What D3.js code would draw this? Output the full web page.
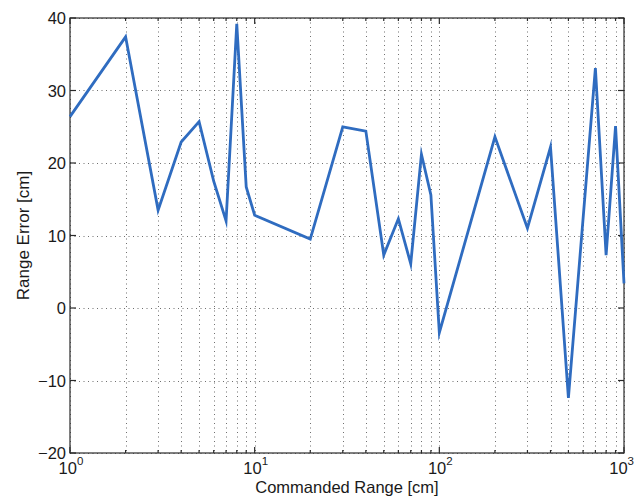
<!DOCTYPE html>
<html>
<head>
<meta charset="utf-8">
<script src="https://cdn.jsdelivr.net/npm/d3@7"></script>
<style>
  html, body { margin: 0; padding: 0; background: #fff; }
  svg { display: block; }
  text { font-family: "Liberation Sans", Arial, Helvetica, sans-serif; fill: #1a1a1a; }
</style>
</head>
<body>
<script>
// Data
const ranges = [1, 2, 3, 4, 5, 6, 7, 8, 9, 10, 20, 30, 40, 50, 60, 70, 80, 90, 100, 200, 300, 400, 500, 700, 800, 900, 1000];
const errors = [26.4, 37.4, 13.5, 22.9, 25.7, 17.5, 12.0, 39.2, 16.7, 12.8, 9.5, 25.0, 24.4, 7.3, 12.3, 6.1, 21.2, 15.6, -3.4, 23.6, 11.0, 22.2, -12.4, 33.1, 7.3, 25.1, 3.4];
const xMajorTicks = [1, 10, 100, 1000];
const xTickExponents = ["0", "1", "2", "3"];
const yTicks = [-20, -10, 0, 10, 20, 30, 40];
const xLabel = "Commanded Range [cm]";
const yLabel = "Range Error [cm]";

const W = 635, H = 496;
const margin = { left: 70, right: 11, top: 18, bottom: 43 };
const x0 = margin.left, x1 = W - margin.right, y0 = margin.top, y1 = H - margin.bottom;

const svg = d3.select("body").append("svg").attr("width", W).attr("height", H);

const x = d3.scaleLog().domain([1, 1000]).range([x0, x1]);
const y = d3.scaleLinear().domain([-20, 40]).range([y1, y0]);

// minor ticks 2..9 per decade
const xMinor = [];
[1, 10, 100].forEach(d => { for (let k = 2; k <= 9; k++) xMinor.push(d * k); });
const xAllGrid = xMinor.concat(xMajorTicks);

const gridColor = "#333";
const grid = svg.append("g");
grid.selectAll("line.vg").data(xAllGrid).enter().append("line")
  .attr("x1", d => Math.round(x(d)) + 0.5).attr("x2", d => Math.round(x(d)) + 0.5)
  .attr("y1", y0).attr("y2", y1)
  .attr("stroke", gridColor).attr("stroke-width", 1).attr("stroke-dasharray", "1,3.5").attr("opacity", 0.7);
grid.selectAll("line.hg").data(yTicks).enter().append("line")
  .attr("y1", d => Math.round(y(d)) + 0.5).attr("y2", d => Math.round(y(d)) + 0.5)
  .attr("x1", x0).attr("x2", x1)
  .attr("stroke", gridColor).attr("stroke-width", 1).attr("stroke-dasharray", "1,3.5").attr("opacity", 0.7);

// Axes box and inward ticks
const axisColor = "#2a2a2a";
const ax = svg.append("g").attr("stroke", axisColor).attr("stroke-width", 1.2).attr("fill", "none");
ax.append("rect").attr("x", x0).attr("y", y0).attr("width", x1 - x0).attr("height", y1 - y0);
const majLen = 6, minLen = 3;
xMajorTicks.forEach(d => {
  const px = x(d);
  ax.append("line").attr("x1", px).attr("x2", px).attr("y1", y1).attr("y2", y1 - majLen);
  ax.append("line").attr("x1", px).attr("x2", px).attr("y1", y0).attr("y2", y0 + majLen);
});
xMinor.forEach(d => {
  const px = x(d);
  ax.append("line").attr("x1", px).attr("x2", px).attr("y1", y1).attr("y2", y1 - minLen);
  ax.append("line").attr("x1", px).attr("x2", px).attr("y1", y0).attr("y2", y0 + minLen);
});
yTicks.forEach(d => {
  const py = y(d);
  ax.append("line").attr("x1", x0).attr("x2", x0 + majLen).attr("y1", py).attr("y2", py);
  ax.append("line").attr("x1", x1).attr("x2", x1 - majLen).attr("y1", py).attr("y2", py);
});

// Data line
const line = d3.line().x((d, i) => x(ranges[i])).y(d => y(d));
svg.append("path").datum(errors)
  .attr("d", line)
  .attr("fill", "none")
  .attr("stroke", "#2f6cc0")
  .attr("stroke-width", 2.8)
  .attr("stroke-linejoin", "miter")
  .attr("stroke-miterlimit", 10);

// Y tick labels
svg.append("g").selectAll("text").data(yTicks).enter().append("text")
  .attr("x", x0 - 4).attr("y", d => y(d))
  .attr("text-anchor", "end").attr("dominant-baseline", "central")
  .style("font-size", "16.5px")
  .text(d => d < 0 ? "\u2212" + Math.abs(d) : d);

// X tick labels with superscripts
const xl = svg.append("g");
xMajorTicks.forEach((d, i) => {
  const last = i === xMajorTicks.length - 1;
  const t = xl.append("text")
    .attr("x", last ? W - 1 : x(d) + 1).attr("y", 474)
    .attr("text-anchor", last ? "end" : "middle")
    .style("font-size", "16.5px");
  t.append("tspan").text("10");
  t.append("tspan").attr("dy", -9).style("font-size", "11.5px").text(xTickExponents[i]);
});

// Axis titles
svg.append("text").attr("x", (x0 + x1) / 2).attr("y", 493).attr("text-anchor", "middle")
  .style("font-size", "16.5px").text(xLabel);
svg.append("text").attr("transform", `translate(29, ${(y0 + y1) / 2}) rotate(-90)`)
  .attr("text-anchor", "middle").style("font-size", "17px").text(yLabel);
</script>
</body>
</html>
